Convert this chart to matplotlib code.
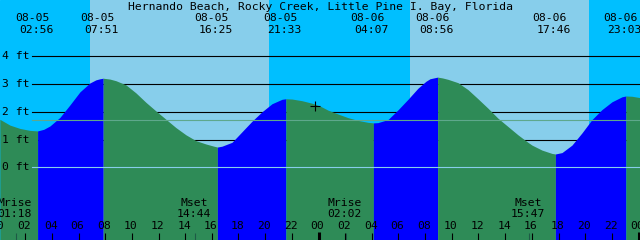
import matplotlib
matplotlib.use("Agg")
import matplotlib.pyplot as plt

TITLE = "Hernando Beach, Rocky Creek, Little Pine I. Bay, Florida"

# high / low tides (labels at the top)
tide_dates = ["08-05", "08-05", "08-05", "08-05", "08-06", "08-06", "08-06", "08-06"]
tide_times = ["02:56", "07:51", "16:25", "21:33", "04:07", "08:56", "17:46", "23:03"]
tide_heights = [1.31, 3.21, 0.73, 2.47, 1.60, 3.25, 0.48, 2.57]

# moon rise / set (labels at the bottom)
moon_names = ["Mrise", "Mset", "Mrise", "Mset"]
moon_dates = ["08-05", "08-05", "08-06", "08-06"]
moon_times = ["01:18", "14:44", "02:02", "15:47"]

# daylight
sun_dates = ["08-05", "08-06"]
sunrise_times = ["06:52", "06:53"]
sunset_times = ["20:17", "20:16"]

# tide curve (hours from 08-05 00:00, feet)
curve_hours = [0.10, 0.86, 1.61, 2.36, 3.40, 3.86, 4.61, 5.36, 6.11, 6.86, 7.30, 7.61,
               8.35, 8.81, 9.56, 10.31, 11.06, 11.81, 12.56, 13.31, 14.06, 14.81, 15.56, 16.16,
               16.76, 17.51, 18.26, 19.01, 19.76, 20.51, 21.26,
               22.01, 22.76, 23.51, 24.11, 24.71, 25.46, 26.21, 26.96, 27.71,
               28.46, 29.21, 29.96, 30.71, 31.46, 32.06, 32.36,
               33.30, 33.71, 34.46, 35.21, 35.96, 36.71, 37.46, 38.21, 38.96, 39.71, 40.01, 40.76, 41.51,
               42.26, 43.01, 43.76, 44.51, 45.26, 46.01, 46.76,
               47.51, 48.12]
curve_heights = [1.73, 1.52, 1.40, 1.33, 1.37, 1.49, 1.80, 2.25, 2.72, 3.04, 3.15, 3.19,
                 3.18, 3.12, 2.97, 2.68, 2.34, 2.03, 1.73, 1.43, 1.17, 0.96, 0.84, 0.76,
                 0.76, 0.90, 1.28, 1.66, 2.00, 2.29, 2.45,
                 2.46, 2.40, 2.31, 2.21, 2.06, 1.92, 1.79, 1.69, 1.62,
                 1.61, 1.72, 2.07, 2.45, 2.85, 3.10, 3.19,
                 3.22, 3.17, 3.05, 2.80, 2.47, 2.13, 1.77, 1.47, 1.17, 0.90, 0.80, 0.62, 0.50,
                 0.53, 0.80, 1.24, 1.72, 2.08, 2.36, 2.54,
                 2.56, 2.51]

ft_levels = [0, 1, 2, 3, 4]
mark_level = 1.69
now_hour = 23.74
now_height = 2.21
hour_ticks = list(range(0, 49, 2))

NIGHT = "#00BFFF"
DAY = "#87CEEB"
RISING = "#0000FF"
FALLING = "#2E8B57"
FONT = dict(family="DejaVu Sans Mono", fontsize=8.2, color="black")

PX_PER_HOUR = 640 / 48
X0 = 1.5 / PX_PER_HOUR          # hour at the left edge
Y0_PX, PX_PER_FT = 167.3, 27.75  # 0 ft row and scale


def to_hours(date, time):
    day = int(date.split("-")[1])
    hh, mm = time.split(":")
    return (day - 5) * 24 + int(hh) + int(mm) / 60


def fy(px):
    # pixel row -> axes fraction
    return 1 - px / 240


tide_hours = [to_hours(d, t) for d, t in zip(tide_dates, tide_times)]
moon_hours = [to_hours(d, t) for d, t in zip(moon_dates, moon_times)]

pts = sorted(zip(curve_hours + tide_hours, curve_heights + tide_heights))
hours = [p[0] for p in pts]
heights = [p[1] for p in pts]

fig = plt.figure(figsize=(6.4, 2.4), dpi=100)
ax = fig.add_axes([0, 0, 1, 1])
ax.set_xlim(X0, X0 + 48)
ymin = (Y0_PX - 240) / PX_PER_FT
ax.set_ylim(ymin, Y0_PX / PX_PER_FT)
ax.set_axis_off()
ax.add_patch(plt.Rectangle((0, 0), 1, 1, transform=ax.transAxes, color=NIGHT, zorder=0))

for d, rise, sset in zip(sun_dates, sunrise_times, sunset_times):
    ax.axvspan(to_hours(d, rise), to_hours(d, sset), color=DAY, lw=0, zorder=1)

x_grid = 32 / PX_PER_HOUR + X0
for lv in ft_levels[1:]:
    ax.plot([x_grid, X0 + 48], [lv, lv], color="black", lw=0.8, zorder=2)

# water, blue while rising, green while falling
bounds = [hours[0]] + tide_hours + [hours[-1]]
for a, b in zip(bounds[:-1], bounds[1:]):
    seg = [(t, h) for t, h in zip(hours, heights) if a <= t <= b]
    st = [s[0] for s in seg]
    sh = [s[1] for s in seg]
    color = RISING if sh[-1] > sh[0] else FALLING
    ax.fill_between(st, ymin, sh, color=color, lw=0, antialiased=False, zorder=3)

ax.plot([x_grid, X0 + 48], [0, 0], color=DAY, lw=0.8, zorder=4)
ax.plot([x_grid, X0 + 48], [mark_level, mark_level], color="#5ea88c", lw=0.8, zorder=4)
ax.plot(now_hour, now_height, marker="+", color="black", ms=7, mew=0.8, zorder=5)

for lv in ft_levels:
    ax.text(X0 + 1.5 / PX_PER_HOUR, lv, f"{lv} ft", ha="left", va="center", zorder=6, **FONT)

trans = ax.get_xaxis_transform()
ax.text(0.5, fy(9.7), TITLE, transform=ax.transAxes, ha="center", va="baseline", **FONT)
for d, t, x in zip(tide_dates, tide_times, tide_hours):
    ax.text(x - 5.5 / PX_PER_HOUR, fy(20.7), d, transform=trans, ha="center", va="baseline", **FONT)
    ax.text(x - 1.5 / PX_PER_HOUR, fy(33.3), t, transform=trans, ha="center", va="baseline", **FONT)

for name, t, x in zip(moon_names, moon_times, moon_hours):
    ax.text(x - 1 / PX_PER_HOUR, fy(206), name, transform=trans, ha="center", va="baseline", **FONT)
    ax.text(x - 1 / PX_PER_HOUR, fy(217.3), t, transform=trans, ha="center", va="baseline", **FONT)
ax.vlines(moon_hours, 0, fy(232.5), transform=trans, color="#1e5a46", lw=0.8, zorder=6)

for h in hour_ticks:
    ax.text(h - 1 / PX_PER_HOUR, fy(229.3), f"{h % 24:02d}", transform=trans,
            ha="center", va="baseline", **FONT)
ax.vlines([h for h in hour_ticks if h % 24], 0, fy(232.5), transform=trans,
          color="black", lw=0.8, zorder=6)
ax.vlines([h for h in hour_ticks if h % 24 == 0], 0, fy(231.5), transform=trans,
          color="black", lw=2.2, zorder=6)

fig.savefig("out.png", dpi=100)
